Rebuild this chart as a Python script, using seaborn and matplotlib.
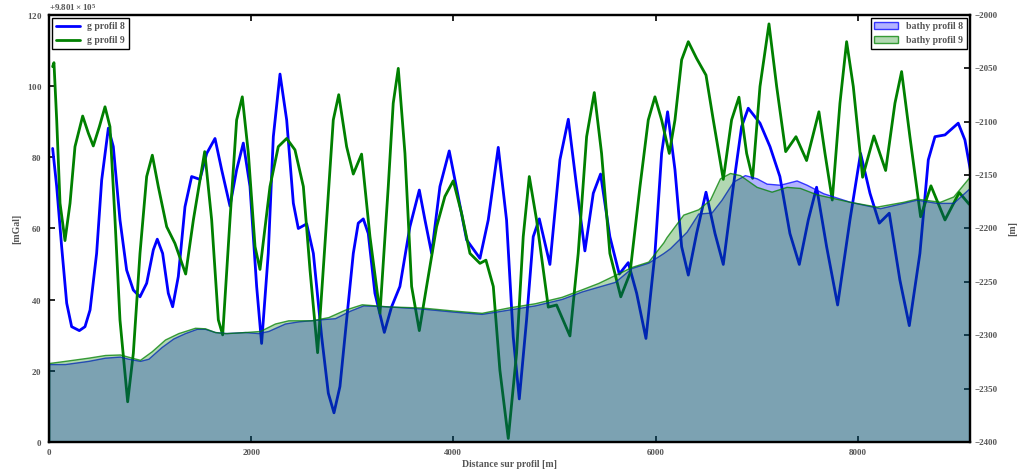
import matplotlib
matplotlib.use("Agg")
import matplotlib.pyplot as plt
import pandas as pd
import seaborn as sns
from matplotlib.ticker import ScalarFormatter, MultipleLocator

# ---- gravity profiles (distance [m], anomaly above base [mGal]) ----
G_BASE = 980100.0

dist_g8 = [36, 76, 125, 175, 224, 300, 356, 406, 471, 521, 587, 636, 702, 768,
           834, 900, 966, 1032, 1071, 1124, 1180, 1223, 1279, 1345, 1411, 1493,
           1560, 1642, 1708, 1790, 1856, 1922, 1988, 2054, 2103, 2169, 2219,
           2285, 2351, 2417, 2466, 2549, 2615, 2697, 2763, 2819, 2878, 2944,
           3010, 3059, 3109, 3158, 3224, 3317, 3389, 3471, 3570, 3663, 3719,
           3785, 3867, 3959, 4048, 4131, 4263, 4345, 4444, 4526, 4592, 4652,
           4724, 4790, 4850, 4955, 5054, 5137, 5219, 5301, 5384, 5456, 5548,
           5641, 5730, 5813, 5905, 5994, 6060, 6119, 6192, 6258, 6324, 6406,
           6499, 6588, 6670, 6769, 6851, 6917, 7033, 7132, 7230, 7329, 7422,
           7511, 7593, 7692, 7801, 7923, 8028, 8121, 8213, 8312, 8417, 8510,
           8615, 8698, 8764, 8863, 8994, 9060, 9117]
g8 = [82.5, 71.8, 54.9, 39.0, 32.4, 31.3, 32.4, 37.1, 53.0, 73.6, 88.2, 83.0,
      62.4, 48.3, 42.7, 40.8, 44.6, 54.0, 57.0, 53.0, 41.8, 38.0, 46.5, 66.1,
      74.6, 73.8, 81.1, 85.3, 76.5, 66.3, 76.5, 84.0, 71.8, 43.7, 27.7, 53.0,
      85.8, 103.4, 90.5, 67.1, 60.0, 61.3, 53.0, 29.6, 13.7, 8.2, 15.6, 34.3,
      53.0, 61.5, 62.7, 58.6, 41.8, 30.8, 38.0, 43.7, 60.5, 70.8, 62.4, 53.0,
      71.8, 81.8, 69.0, 56.8, 51.6, 62.4, 82.8, 62.4, 29.6, 12.1, 34.3, 57.7,
      62.7, 49.9, 79.3, 90.7, 71.8, 53.7, 69.9, 75.3, 57.7, 47.2, 50.4, 41.8,
      29.1, 53.0, 81.1, 92.8, 76.5, 54.9, 46.9, 58.6, 70.2, 58.6, 49.9, 71.8,
      88.6, 93.8, 89.6, 83.0, 74.6, 58.6, 49.9, 62.4, 71.6, 54.9, 38.5, 62.4,
      81.1, 69.9, 61.5, 64.3, 45.5, 32.7, 53.0, 79.3, 85.8, 86.3, 89.6, 84.9,
      76.0]

dist_g9 = [36, 49, 76, 109, 158, 208, 257, 333, 389, 438, 498, 554, 603, 653,
           702, 778, 834, 900, 966, 1022, 1081, 1164, 1246, 1352, 1428, 1540,
           1609, 1675, 1718, 1790, 1856, 1912, 1972, 2038, 2087, 2186, 2268,
           2351, 2433, 2516, 2582, 2657, 2746, 2812, 2866, 2944, 3010, 3092,
           3175, 3274, 3356, 3405, 3455, 3521, 3587, 3663, 3735, 3834, 3916,
           3999, 4081, 4164, 4263, 4322, 4395, 4460, 4543, 4625, 4691, 4751,
           4823, 4939, 5021, 5153, 5235, 5318, 5394, 5466, 5548, 5656, 5747,
           5846, 5928, 5994, 6060, 6136, 6192, 6258, 6324, 6406, 6499, 6571,
           6670, 6752, 6825, 6901, 6960, 7033, 7122, 7198, 7287, 7389, 7494,
           7616, 7676, 7748, 7824, 7890, 7956, 8048, 8160, 8276, 8368, 8434,
           8516, 8622, 8724, 8863, 9004, 9103]
g9 = [105.5, 106.6, 90.5, 67.1, 56.6, 67.1, 83.0, 91.6, 86.8, 83.2, 88.6, 94.2,
      88.6, 62.4, 34.3, 11.3, 24.9, 53.0, 74.6, 80.6, 71.8, 60.5, 55.8, 47.2,
      62.4, 81.6, 62.4, 34.3, 30.1, 62.4, 90.5, 97.0, 81.1, 54.9, 48.5, 71.8,
      83.0, 85.3, 82.1, 71.8, 48.3, 25.1, 62.4, 90.5, 97.6, 83.0, 75.3, 80.9,
      57.7, 36.2, 71.8, 95.2, 105.0, 81.1, 43.7, 31.3, 43.7, 60.5, 69.0, 73.4,
      64.3, 53.0, 50.2, 51.1, 43.7, 20.2, 1.0, 24.9, 57.7, 74.6, 62.4, 37.9,
      38.5, 29.8, 53.0, 85.8, 98.2, 81.1, 53.0, 40.8, 47.4, 71.8, 90.5, 97.0,
      90.5, 81.1, 90.5, 107.4, 112.5, 107.8, 103.1, 90.5, 73.8, 90.5, 96.9,
      81.1, 74.1, 99.9, 117.5, 99.9, 81.6, 85.8, 79.1, 92.8, 81.1, 68.0, 95.2,
      112.5, 99.9, 74.4, 86.0, 76.3, 95.2, 104.1, 85.8, 63.3, 72.0, 62.4, 70.1,
      66.8]

# ---- bathymetry profiles (distance [m], depth [m]) ----
dist_b8 = [0, 158, 389, 554, 702, 785, 900, 983, 1114, 1230, 1345, 1461, 1543,
           1642, 1757, 1939, 2070, 2169, 2334, 2466, 2697, 2829, 2977, 3109,
           3356, 3686, 4016, 4280, 4543, 4807, 5071, 5269, 5433, 5598, 5763,
           5928, 6077, 6142, 6307, 6422, 6554, 6653, 6768, 6884, 7000, 7099,
           7231, 7395, 7494, 7659, 7923, 8220, 8450, 8582, 8780, 8945, 9120]
bathy8 = [-2327, -2327, -2324, -2321, -2320, -2322, -2324, -2322, -2311, -2303,
          -2298, -2294, -2294, -2297, -2298, -2297, -2298, -2296, -2289, -2287,
          -2285, -2284, -2277, -2272, -2273, -2275, -2278, -2280, -2276, -2272,
          -2266, -2259, -2254.5, -2250, -2237, -2232, -2223, -2218.5, -2203,
          -2186, -2185, -2173, -2156, -2150, -2153, -2158, -2159, -2155, -2159,
          -2167, -2175, -2181, -2176, -2173, -2176, -2176, -2161]

dist_b9 = [0, 158, 389, 554, 702, 818, 900, 1016, 1147, 1279, 1444, 1543, 1642,
           1741, 1939, 2087, 2235, 2367, 2598, 2763, 2928, 3093, 3356, 3686,
           4016, 4280, 4543, 4807, 5071, 5269, 5433, 5598, 5763, 5928, 6077,
           6109, 6274, 6422, 6538, 6637, 6736, 6835, 7000, 7148, 7296, 7428,
           7593, 7923, 8187, 8450, 8582, 8813, 8945, 9120]
bathy9 = [-2326, -2324, -2321, -2318.5, -2318, -2321, -2323, -2315, -2304, -2298,
          -2293, -2293.5, -2297, -2298, -2297, -2296, -2289, -2286, -2286, -2283,
          -2276, -2271, -2273, -2274, -2277, -2279, -2274, -2270, -2264, -2257,
          -2251, -2243.5, -2236, -2231, -2213, -2208, -2187, -2182, -2173, -2153,
          -2148, -2150, -2161, -2165.5, -2161, -2162, -2168, -2175, -2179.5,
          -2175, -2172, -2175, -2170, -2150]

sns.set_theme(style="white")
plt.rcParams.update({
    "font.family": ["Liberation Serif", "DejaVu Serif"],
    "font.weight": "bold",
    "font.size": 7,
    "mathtext.fontset": "stix",
    "text.color": "#555555",
    "axes.labelcolor": "#555555",
    "axes.labelweight": "bold",
    "axes.labelsize": 7,
    "axes.edgecolor": "black",
    "axes.linewidth": 1.6,
    "xtick.color": "black",
    "ytick.color": "black",
    "xtick.labelcolor": "#555555",
    "ytick.labelcolor": "#555555",
    "xtick.direction": "in",
    "ytick.direction": "in",
    "xtick.major.size": 4,
    "ytick.major.size": 4,
    "xtick.major.width": 1.2,
    "ytick.major.width": 1.2,
    "xtick.labelsize": 6.5,
    "ytick.labelsize": 6.5,
    "legend.fontsize": 7,
})

fig = plt.figure(figsize=(10.21, 4.70), dpi=100)
ax1 = fig.add_axes([0.048, 0.0596, 0.902, 0.9085])
ax2 = ax1.twinx()

df8 = pd.DataFrame({"dist": dist_g8, "g": [G_BASE + v for v in g8]})
df9 = pd.DataFrame({"dist": dist_g9, "g": [G_BASE + v for v in g9]})
sns.lineplot(data=df8, x="dist", y="g", ax=ax1, color="blue", linewidth=2,
             sort=False, estimator=None, label="g profil 8")
sns.lineplot(data=df9, x="dist", y="g", ax=ax1, color="green", linewidth=2,
             sort=False, estimator=None, label="g profil 9")
for ln in ax1.lines:
    ln.set_solid_joinstyle("round")

f8 = ax2.fill_between(dist_b8, bathy8, -2450, facecolor=(0, 0, 1, 0.3),
                      edgecolor=(0, 0, 1, 0.75), linewidth=1.0,
                      label="bathy profil 8")
f9 = ax2.fill_between(dist_b9, bathy9, -2450, facecolor=(0, 0.5, 0, 0.3),
                      edgecolor=(0, 0.5, 0, 0.75), linewidth=1.0,
                      label="bathy profil 9")

ax1.set_xlim(0, 9110)
ax1.set_ylim(G_BASE, G_BASE + 120)
ax2.set_ylim(-2400, -2000)

ax1.xaxis.set_major_locator(MultipleLocator(2000))
ax1.yaxis.set_major_locator(MultipleLocator(20))
ax2.yaxis.set_major_locator(MultipleLocator(50))

fmt = ScalarFormatter(useOffset=G_BASE, useMathText=True)
ax1.yaxis.set_major_formatter(fmt)

ax1.tick_params(axis="x", top=True, bottom=True, pad=5)
ax1.tick_params(axis="y", left=True, right=False, pad=5)
ax2.tick_params(axis="y", right=True, left=False, pad=3)

ax1.set_xlabel("Distance sur profil [m]", labelpad=2)
ax1.set_ylabel("[mGal]", labelpad=4)
ax2.set_ylabel("[m]", labelpad=8)

leg1 = ax1.legend(loc="upper left", fancybox=False, edgecolor="black",
                  framealpha=1, handlelength=2.4, borderaxespad=0.35)
leg1.get_frame().set_linewidth(1.0)
leg2 = ax2.legend(handles=[f8, f9], loc="upper right", fancybox=False,
                  edgecolor="black", framealpha=1, handlelength=2.4,
                  borderaxespad=0.35)
leg2.get_frame().set_linewidth(1.0)

for ax in (ax1, ax2):
    for s in ax.spines.values():
        s.set_color("black")
        s.set_linewidth(1.6)

fig.savefig("out.png", dpi=100)
